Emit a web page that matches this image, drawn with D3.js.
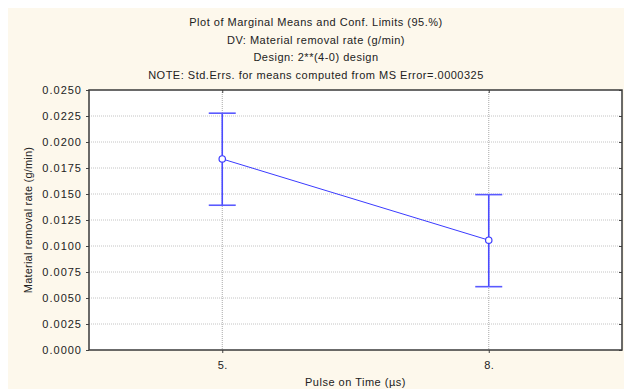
<!DOCTYPE html>
<html>
<head>
<meta charset="utf-8">
<script src="https://cdn.jsdelivr.net/npm/d3@7"></script>
<style>
  body { margin: 0; background: #fff; }
  text { font-family: "Liberation Sans", Arial, sans-serif; font-size: 11px; fill: #222; letter-spacing: 0.5px; }
</style>
</head>
<body>
<svg id="chart" width="624" height="389"></svg>
<script>
// chart values
const categories = ["5.", "8."];
const means = [0.01837, 0.01056];
const lowerLimits = [0.01392, 0.00609];
const upperLimits = [0.02277, 0.01494];
const yTicks = [0, 0.0025, 0.005, 0.0075, 0.01, 0.0125, 0.015, 0.0175, 0.02, 0.0225, 0.025];
const titleLines = [
  "Plot of Marginal Means and Conf. Limits (95.%)",
  "DV: Material removal rate (g/min)",
  "Design: 2**(4-0) design",
  "NOTE: Std.Errs. for means computed from MS Error=.0000325"
];

const svg = d3.select("svg#chart");
const margin = { top: 90, right: 2, bottom: 39, left: 89 };
const W = 624, H = 389;
const plotW = W - margin.left - margin.right;
const plotH = H - margin.top - margin.bottom;

// cream panel behind everything
svg.append("rect").attr("x", 8).attr("y", 8).attr("width", W - 8).attr("height", H - 8).attr("fill", "#fdf8ec");

// titles
titleLines.forEach(function(t, i) {
  svg.append("text").attr("x", 316).attr("y", 26 + i * 17.7).attr("text-anchor", "middle").text(t);
});

const x = d3.scalePoint().domain(categories).range([0, plotW]).padding(0.5);
const y = d3.scaleLinear().domain([0, 0.025]).range([plotH, 0]);

const g = svg.append("g").attr("transform", "translate(" + margin.left + "," + margin.top + ")");
g.append("rect").attr("width", plotW).attr("height", plotH).attr("fill", "white");

// grid lines
g.selectAll(".hgrid").data(yTicks.slice(1, -1)).enter().append("line")
  .attr("x1", 0).attr("x2", plotW).attr("y1", d => y(d)).attr("y2", d => y(d))
  .attr("stroke", "#c4c4c4").attr("stroke-dasharray", "1,1").attr("stroke-width", 1);
g.selectAll(".vgrid").data(categories).enter().append("line")
  .attr("x1", d => x(d)).attr("x2", d => x(d)).attr("y1", 0).attr("y2", plotH)
  .attr("stroke", "#a8a8a8").attr("stroke-dasharray", "1,1").attr("stroke-width", 1);

// axes
const yAxis = g.append("g").call(d3.axisLeft(y).tickValues(yTicks).tickSize(3).tickFormat(d3.format(".4f")));
yAxis.select(".domain").remove();
yAxis.selectAll("line").attr("stroke", "#444");
yAxis.selectAll("text").attr("x", -7).style("font-size", "11px").style("fill", "#222").style("letter-spacing", "1px");

const yRight = g.append("g").attr("transform", "translate(" + plotW + ",0)")
  .call(d3.axisLeft(y).tickValues(yTicks).tickSize(3).tickFormat(""));
yRight.select(".domain").remove();
yRight.selectAll("line").attr("stroke", "#444");

const xAxis = g.append("g").attr("transform", "translate(0," + plotH + ")")
  .call(d3.axisBottom(x).tickSize(3));
xAxis.select(".domain").remove();
xAxis.selectAll("line").attr("stroke", "#444");
xAxis.selectAll("text").attr("y", 11).style("font-size", "11px").style("fill", "#222");

const xTop = g.append("g").call(d3.axisTop(x).tickSize(-3).tickFormat(""));
xTop.select(".domain").remove();
xTop.selectAll("line").attr("stroke", "#444");

// frame
g.append("rect").attr("width", plotW).attr("height", plotH).attr("fill", "none")
  .attr("stroke", "#3a3a3a").attr("stroke-width", 1.5);

// axis titles
svg.append("text").attr("x", margin.left + plotW / 2).attr("y", 386).attr("text-anchor", "middle")
  .text("Pulse on Time (\u00b5s)");
svg.append("text").attr("transform", "translate(32," + (margin.top + plotH / 2) + ") rotate(-90)")
  .attr("text-anchor", "middle").style("letter-spacing", "0.2px").text("Material removal rate (g/min)");

// error bars
const blue = "#3b3bff";
categories.forEach(function(c, i) {
  const bar = g.append("g").attr("class", "errbar");
  bar.append("line").attr("x1", x(c)).attr("x2", x(c)).attr("y1", y(lowerLimits[i])).attr("y2", y(upperLimits[i]))
    .attr("stroke", "#4a4aff").attr("stroke-width", 1.6);
  [lowerLimits[i], upperLimits[i]].forEach(function(v) {
    bar.append("line").attr("x1", x(c) - 13.5).attr("x2", x(c) + 13.5).attr("y1", y(v)).attr("y2", y(v))
      .attr("stroke", "#5a5aff").attr("stroke-width", 1.6);
  });
});

// mean line
const line = d3.line().x((d, i) => x(categories[i])).y(d => y(d));
g.append("path").datum(means).attr("d", line).attr("fill", "none").attr("stroke", blue).attr("stroke-width", 1);

g.selectAll(".pt").data(means).enter().append("circle")
  .attr("cx", (d, i) => x(categories[i])).attr("cy", d => y(d)).attr("r", 3.2)
  .attr("fill", "white").attr("stroke", blue).attr("stroke-width", 1.2);
</script>
</body>
</html>
